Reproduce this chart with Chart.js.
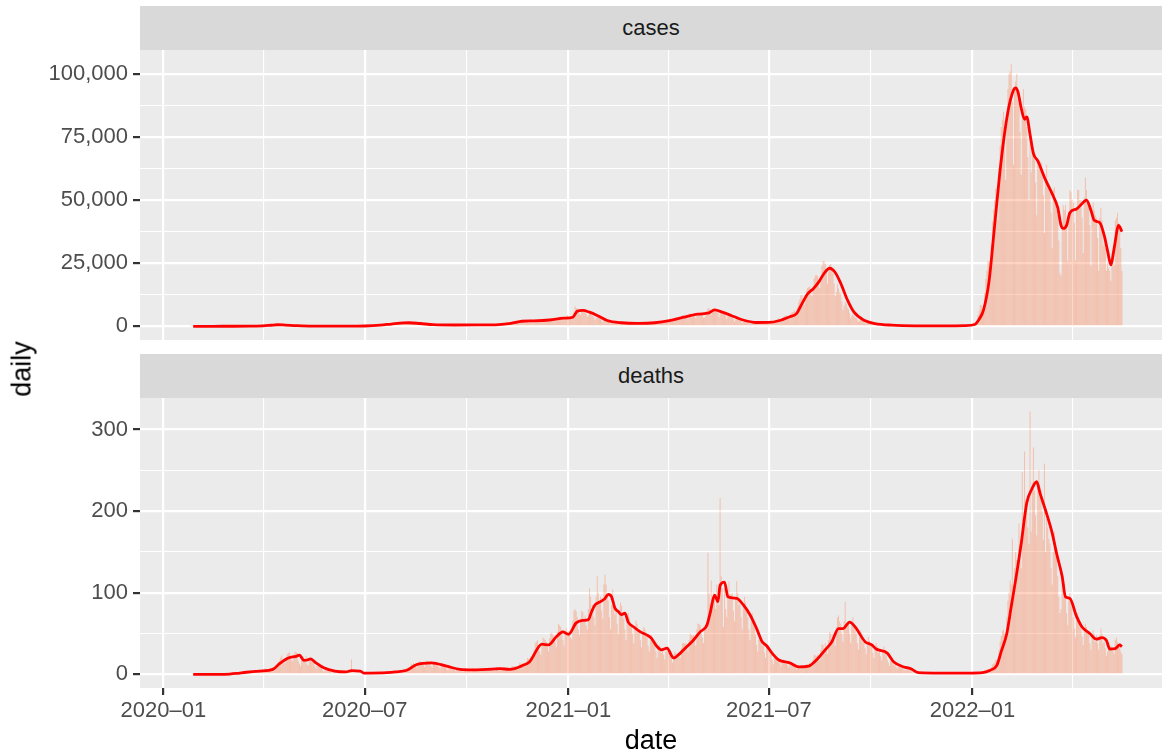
<!DOCTYPE html>
<html>
<head>
<meta charset="utf-8">
<script src="https://cdn.jsdelivr.net/npm/chart.js@4.4.1/dist/chart.umd.min.js"></script>
<style>
  body { margin: 0; width: 1162px; height: 755px; overflow: hidden; position: relative; background: #fff;
         font-family: "Liberation Sans", Arial, sans-serif; }
  canvas { position: absolute; left: 0; }
  .strip { position: absolute; left: 140px; width: 1022px; height: 44px; line-height: 44px; background: #D9D9D9;
           color: #1A1A1A; font-size: 22px; text-align: center; }
  #ytitle { position: absolute; left: 22px; top: 369px; transform: translate(-50%, -50%) rotate(-90deg);
            font-size: 27px; color: #000; white-space: nowrap; }
</style>
</head>
<body>
<canvas id="casesChart" width="1162" height="340" style="top:0"></canvas>
<canvas id="deathsChart" width="1162" height="401" style="top:354px"></canvas>
<div class="strip" style="top:6px">cases</div>
<div class="strip" style="top:354px">deaths</div>
<div id="ytitle">daily</div>
<script>
// daily reported values, one row per week (Sat..Fri), first day 2020-01-25
const startDate = '2020-01-25';

const dailyCases = [
  0,1,0,1,2,1,1, 2,1,1,2,3,3,2, 3,4,3,4,7,8,6, 10,8,6,10,15,14,17,
  15,14,10,16,25,22,24, 25,26,18,26,38,36,40, 45,38,25,32,46,44,50, 38,34,20,36,48,44,56,
  55,60,40,70,110,180,200, 200,180,150,260,320,380,560, 460,380,350,360,520,640,700, 720,550,380,480,600,590,520,
  560,450,250,330,420,440,480, 370,220,140,190,260,250,200, 200,150,90,80,100,80,80, 90,60,20,40,50,45,40,
  40,30,20,15,35,45,50, 30,30,20,30,40,45,50, 45,35,30,45,55,50,55, 40,40,30,35,50,45,65,
  50,45,40,45,60,65,80, 60,60,50,90,100,110,130, 120,110,80,120,190,250,250, 200,250,180,240,400,540,600,
  550,450,300,480,610,690,900, 800,600,450,790,900,1000,1050, 1250,1050,800,1000,1250,1350,1450, 1600,1400,1000,1200,1400,1550,1500,
  1500,1200,900,1100,1400,1500,1350, 1250,950,650,900,1150,1100,1100, 950,750,480,650,850,900,800, 700,600,400,550,700,700,620,
  650,480,300,480,620,650,600, 600,450,280,450,600,560,640, 590,470,300,420,600,640,620, 640,450,300,450,610,620,640,
  640,500,310,490,600,640,620, 660,490,320,510,620,670,650, 700,530,350,530,680,720,690, 800,600,420,620,800,840,800,
  1000,850,600,850,1100,1150,1100, 1500,1250,900,1200,1700,1650,1600, 2200,1800,1300,1700,2200,2400,2200, 2500,2000,1400,1800,2300,2400,2300,
  2400,2100,1500,2000,2600,2500,2400, 2800,2300,1600,2200,2800,2800,2800, 3000,2400,1700,2400,3000,3100,2900, 3300,2800,2000,2900,3500,3800,3600,
  3800,3100,2300,3000,3700,4500,3500,
  // 2021
  3200,3100,3300,4900,6000,7900,7200, 7000,6000,4900,4500,5800,6600,6000, 6000,5000,3800,4300,5200,5000,4500,
  4100,3600,2500,3300,3800,3700,3500, 3000,2300,1600,2200,2400,2300,2100, 1900,1500,1000,1500,1900,1800,1650, 1400,1300,800,1200,1500,1500,1400,
  1300,1100,700,1000,1300,1350,1300, 1100,1000,650,1050,1250,1350,1300, 1250,1150,700,1100,1400,1500,1450, 1450,1300,850,1300,1600,1650,1500,
  1800,1550,1100,1600,1900,2000,1950, 2300,2000,1500,2100,2600,2700,2500, 2900,2700,1900,2800,3400,3600,3500, 3700,3400,2500,3500,4300,4400,4200,
  4800,4100,2900,4100,5000,5200,4900, 5400,4600,3300,4400,5300,5400,5000, 5800,5100,3400,3400,4200,6100,7000, 7200,6500,4600,5500,7000,7000,6900,
  6400,5500,3600,4800,5800,5600,5500, 5000,4300,2900,3900,4700,4600,4100, 3400,2900,1800,2700,3100,3000,2800, 2600,2100,1300,1800,2200,2000,1900,
  2000,1600,1000,1500,1700,1800,1700, 1600,1400,900,1400,1700,1600,1600, 1800,1500,1000,1500,1800,2000,1900, 2300,2000,1300,2000,2500,2600,2700,
  3300,2900,1800,2900,3700,4000,4200, 4400,3800,2800,4000,5100,5600,5700, 6400,5800,4700,7600,9500,10700,12300, 12300,10200,8400,10500,14200,15200,15500,
  15800,14500,12000,15000,18900,20100,20200, 20000,17000,15200,19900,23900,25900,25800, 24700,22000,16800,21600,24300,24700,22700, 21000,17000,12000,13600,16700,15000,13400,
  12900,9800,6500,8000,9600,8900,7400, 6800,5200,3200,4200,5100,4200,3500, 3400,2700,1800,2200,2800,2400,2100, 1800,1400,900,1300,1600,1500,1200,
  1100,900,600,800,1000,900,800, 700,560,330,500,600,550,500, 450,400,250,380,470,420,380, 330,300,150,290,400,330,290,
  260,240,90,180,280,230,220, 200,160,100,160,200,180,170, 170,150,80,150,190,170,160, 150,120,70,130,170,170,170,
  140,120,80,140,170,170,160, 160,130,80,130,170,180,170, 170,150,100,170,220,230,240, 240,200,150,250,300,330,340,
  370,300,200,390,500,570,500,
  // 2022
  530,550,780,1260,2640,4470,6210, 8480,8250,6440,6380,13240,18860,22050, 25740,25630,20880,32200,41490,46200,49850,
  54580,50920,42000,62610,71630,78930,81830, 84940,78000,58000,79000,94000,100000,101000, 104000,89000,64000,93000,97000,100000,90000,
  88000,77000,60000,83000,94000,87000,86000, 79000,67000,50000,75000,61000,72000,71000, 66000,57000,44000,65000,66000,65000,65000,
  62000,52000,37000,59000,64000,56000,56000, 53000,45000,31000,54000,55000,49000,46000, 44000,34000,21000,20000,41000,48000,46000,
  48000,40000,26000,45000,54000,53000,50000, 49000,41000,26000,46000,54000,54000,50000, 50000,43000,29000,51000,59000,54000,50000,
  49000,40000,24000,43000,49000,46000,44000, 43000,35000,22000,43000,47000,42000,32000, 37000,31000,22000,25000,23000,22000,18000,
  29000,27000,24000,42000,43000,45000,41000, 39000,31000,22000
];

const dailyDeaths = [
  0,0,0,0,0,0,0, 0,0,0,0,0,0,0, 0,0,0,0,0,0,0, 0,0,0,0,0,0,1,
  0,1,0,0,0,0,1, 1,0,1,1,0,2,1, 1,2,1,3,2,3,2, 2,3,2,4,3,4,3,
  4,3,2,5,5,4,5, 3,4,3,6,5,7,6, 5,6,5,7,8,9,9, 11,9,10,15,17,20,23,
  17,14,14,21,25,26,27, 19,17,16,25,28,27,26, 16,13,10,18,22,20,19, 22,12,11,16,20,21,17,
  14,10,7,10,13,12,11, 8,5,3,6,7,7,6, 5,3,2,4,5,5,4, 3,2,2,3,5,3,3,
  2,2,1,3,3,2,18, 2,1,1,2,3,3,2, 1,0,1,1,2,1,1, 1,1,1,2,2,2,1,
  2,1,1,2,3,3,2, 2,2,1,3,3,4,3, 3,3,2,4,5,4,4, 4,4,3,5,7,6,6,
  8,7,6,10,13,12,14, 12,10,8,14,16,16,15, 14,11,9,15,17,16,16, 13,10,8,14,16,15,15,
  12,9,7,12,14,12,11, 9,7,5,8,10,9,8, 6,5,4,6,8,7,6, 6,4,3,6,7,6,6,
  5,4,3,7,7,6,6, 6,5,4,6,8,7,6, 6,5,4,7,9,8,7, 7,6,4,8,9,8,7,
  6,5,4,7,8,7,7, 7,6,5,8,10,10,10, 10,8,6,11,14,13,12, 14,11,10,16,20,19,19,
  22,20,18,30,38,40,42, 35,28,24,38,45,44,42, 40,33,28,44,50,51,48, 45,40,33,52,62,60,58,
  55,42,35,50,56,52,53,
  // 2021
  52,45,43,66,78,80,77, 70,55,48,68,78,76,67, 72,60,55,80,105,95,72,
  85,70,60,95,120,100,86, 95,78,68,110,122,110,96, 90,70,55,85,104,90,73, 80,62,50,78,88,84,76,
  68,55,42,65,75,70,60, 60,50,38,56,66,62,53, 55,42,33,52,58,56,47, 45,35,28,42,48,45,37,
  35,28,20,32,36,33,26, 30,24,18,28,33,34,29, 25,20,14,24,28,26,24, 26,25,20,32,38,38,38,
  38,34,28,42,50,48,47, 48,42,35,55,62,62,60, 50,45,38,55,62,55,149, 100,85,115,90,100,95,80,
  110,90,85,216,120,105,58, 105,80,70,100,114,98,98, 100,78,65,95,114,100,85, 90,70,55,85,95,88,77,
  70,55,42,65,75,68,59, 48,36,28,42,48,43,35, 35,27,20,32,36,33,27, 24,18,12,20,23,20,16,
  18,14,10,16,18,16,13, 14,11,8,13,15,13,10, 10,8,6,10,11,10,8, 9,8,7,10,13,12,11,
  14,12,10,18,24,23,22, 24,20,17,30,37,36,32, 38,30,25,42,52,50,43, 50,42,35,58,70,72,65,
  62,50,40,65,89,60,61, 65,50,38,60,70,63,60, 50,38,30,46,54,50,40, 40,32,25,39,46,41,36,
  34,26,20,32,38,34,26, 28,22,17,28,34,30,23, 18,14,10,16,19,17,11, 12,9,7,10,13,11,8,
  8,6,5,7,9,8,6, 4,3,2,3,4,3,2, 2,2,1,2,3,2,2, 2,1,1,2,2,1,2,
  1,1,1,2,2,2,1, 2,1,1,1,2,2,1, 1,2,1,2,2,1,1, 2,1,1,2,1,2,1,
  1,2,1,1,2,2,2,
  // 2022
  2,1,1,2,2,3,3, 3,3,2,4,5,5,6, 6,5,5,9,12,13,14,
  18,17,19,30,40,47,53, 55,50,45,70,90,100,115, 110,166,95,130,150,140,140,
  185,160,130,248,190,273,214, 210,180,160,322,175,235,278, 225,195,170,230,250,230,226,
  200,165,258,150,190,180,166, 160,130,110,150,175,160,151, 120,95,75,80,120,120,111,
  95,75,60,90,100,92,83, 70,56,45,66,75,70,59, 58,46,36,55,62,58,49,
  50,38,30,46,54,50,40, 48,38,30,48,56,50,38, 40,32,22,28,30,30,35,
  30,28,25,42,45,40,35, 36,28,25
];

// trailing 7-day average
const caseLineDates = [
  '2020-01-28','2020-02-15','2020-03-01','2020-03-20','2020-03-31','2020-04-07','2020-04-13','2020-04-20','2020-04-30','2020-05-15',
  '2020-06-15','2020-07-01','2020-07-15','2020-07-25','2020-08-05','2020-08-10','2020-08-20','2020-09-01','2020-09-20','2020-10-10',
  '2020-10-30','2020-11-10','2020-11-20','2020-12-01','2020-12-15','2020-12-28','2021-01-05','2021-01-09','2021-01-14','2021-01-20',
  '2021-01-27','2021-02-05','2021-02-18','2021-03-05','2021-03-20','2021-04-01','2021-04-15','2021-04-28','2021-05-08','2021-05-13',
  '2021-05-20','2021-05-28','2021-06-07','2021-06-20','2021-07-01','2021-07-10','2021-07-20','2021-07-26','2021-07-31','2021-08-05',
  '2021-08-10','2021-08-15','2021-08-20','2021-08-25','2021-08-30','2021-09-04','2021-09-10','2021-09-16','2021-09-25','2021-10-05',
  '2021-10-20','2021-11-10','2021-12-10','2021-12-25','2022-01-03','2022-01-07','2022-01-11','2022-01-16','2022-01-21','2022-01-27',
  '2022-02-02','2022-02-07','2022-02-09','2022-02-11','2022-02-14','2022-02-17','2022-02-19','2022-02-22','2022-02-25','2022-03-01',
  '2022-03-08','2022-03-14','2022-03-19','2022-03-22','2022-03-24','2022-03-27','2022-03-30','2022-04-05','2022-04-12','2022-04-14',
  '2022-04-18','2022-04-21','2022-04-26','2022-04-30','2022-05-03','2022-05-06','2022-05-09','2022-05-13','2022-05-16'
];
const caseLineValues = [
  0,5,20,40,200,420,620,500,250,50,
  45,120,450,900,1350,1400,1100,650,520,550,
  700,1200,2000,2150,2500,3200,3600,6000,6300,5600,
  4300,2300,1400,1150,1400,2100,3600,4800,5300,6500,
  5600,4300,2600,1500,1550,2200,3800,5000,9000,12800,
  14800,17500,21000,23000,21300,17000,10500,5600,2400,1100,
  450,180,150,250,700,2800,6500,18000,40000,66000,
  85000,93500,94500,93000,86500,82000,83000,76000,68500,65500,
  58000,52500,47000,40000,38800,40000,45000,46500,49500,50000,
  46000,42000,41000,36000,30000,24300,31000,40000,37500
];

const deathLineDates = [
  '2020-01-28','2020-02-20','2020-03-01','2020-03-07','2020-03-16','2020-03-28','2020-04-09','2020-04-15','2020-04-23','2020-04-30',
  '2020-05-03','2020-05-07','2020-05-10','2020-05-13','2020-05-18','2020-05-25','2020-06-04','2020-06-14','2020-06-19','2020-06-27',
  '2020-06-30','2020-07-21','2020-07-29','2020-08-08','2020-08-17','2020-08-30','2020-09-13','2020-09-25','2020-10-07','2020-10-19',
  '2020-10-31','2020-11-09','2020-11-21','2020-11-27','2020-12-08','2020-12-14','2020-12-21','2020-12-27','2021-01-01','2021-01-08',
  '2021-01-14','2021-01-19','2021-01-22','2021-01-25','2021-01-30','2021-02-03','2021-02-06','2021-02-09','2021-02-12','2021-02-15',
  '2021-02-18','2021-02-21','2021-02-24','2021-03-01','2021-03-07','2021-03-13','2021-03-17','2021-03-22','2021-03-26','2021-03-31',
  '2021-04-06','2021-04-12','2021-04-18','2021-04-24','2021-04-30','2021-05-06','2021-05-09','2021-05-13','2021-05-16','2021-05-18',
  '2021-05-22','2021-05-25','2021-06-02','2021-06-08','2021-06-14','2021-06-20','2021-06-25','2021-06-29','2021-07-05','2021-07-10',
  '2021-07-20','2021-07-28','2021-08-06','2021-08-13','2021-08-21','2021-08-27','2021-09-02','2021-09-06','2021-09-12','2021-09-17',
  '2021-09-26','2021-10-02','2021-10-06','2021-10-16','2021-10-22','2021-10-31','2021-11-06','2021-11-13','2021-12-03','2021-12-30',
  '2022-01-10','2022-01-17','2022-01-23','2022-01-27','2022-02-01','2022-02-05','2022-02-10','2022-02-14','2022-02-19','2022-02-24',
  '2022-02-28','2022-03-03','2022-03-08','2022-03-14','2022-03-18','2022-03-23','2022-03-26','2022-03-30','2022-04-05','2022-04-10',
  '2022-04-17','2022-04-23','2022-04-28','2022-05-02','2022-05-05','2022-05-10','2022-05-14','2022-05-16'
];
const deathLineValues = [
  0,0,0.3,1,2.5,4,6,13,20,22,
  23.5,17,17.5,19,14,8,4,3,4.5,4,
  1.5,2,3,5,12,14,10,6,5.5,6,
  7,6,11,15.5,37,36,46,52,49,63,
  66,67,77,85,89,93,98,95,81,77,
  73,75,64,58,52,48,44,34,30,32,
  20,26,34,42,52,60,75,97,89,109,
  113,95,93,85,73,56,40,35,24,17.5,
  14,9,10,17.5,30,40,56,56,64,58,
  40,36,31,26,15,9,7,2,1.5,1.5,
  2,5,11,28,50,83,124,160,210,228,
  236,222,201,173,148,120,95,93,71,58,
  50,43,45,41.5,31,31.5,36,34
];

const xMajorDates = ['2020-01-01', '2020-07-01', '2021-01-01', '2021-07-01', '2022-01-01'];
const xMajorLabels = ['2020–01', '2020–07', '2021–01', '2021–07', '2022–01'];
const xMinorDates = ['2020-04-01', '2020-10-01', '2021-04-01', '2021-10-01', '2022-04-01'];
const caseMajorTicks = [0, 25000, 50000, 75000, 100000];
const caseMinorTicks = [12500, 37500, 62500, 87500];
const deathMajorTicks = [0, 100, 200, 300];
const deathMinorTicks = [50, 150, 250];

const DAY = 86400000;
const ORIGIN = Date.UTC(2020, 0, 1);
function dayNum(s) {
  const [y, m, d] = s.split('-').map(Number);
  return Math.round((Date.UTC(y, m - 1, d) - ORIGIN) / DAY);
}

Chart.defaults.font.family = '"Liberation Sans", Arial, sans-serif';

const panelBg = {
  id: 'panelBg',
  beforeDraw(chart) {
    const { ctx, chartArea: a } = chart;
    ctx.save();
    ctx.fillStyle = '#EBEBEB';
    ctx.fillRect(a.left, a.top, a.right - a.left, a.bottom - a.top);
    ctx.restore();
  }
};

function makePanel(canvasId, bars, lineDates, lineValues, yMajor, yMinor, yMin, yMax, fmt, showX) {
  const start = dayNum(startDate);
  const xMajor = xMajorDates.map(dayNum);
  const xMinor = xMinorDates.map(dayNum);
  const xTicks = xMajor.concat(xMinor).sort((a, b) => a - b);
  const xLabel = v => {
    const i = xMajor.indexOf(v);
    return i >= 0 ? xMajorLabels[i] : '';
  };
  const yTicks = yMajor.concat(yMinor).sort((a, b) => a - b);
  const n = Math.min(lineDates.length, lineValues.length);

  return new Chart(document.getElementById(canvasId), {
    type: 'bar',
    data: {
      datasets: [
        {
          type: 'line',
          data: lineDates.slice(0, n).map((d, i) => ({ x: dayNum(d), y: lineValues[i] })),
          borderColor: '#FF0000',
          borderWidth: 2.8,
          pointRadius: 0,
          cubicInterpolationMode: 'monotone',
          order: 0
        },
        {
          type: 'bar',
          data: bars.map((v, i) => ({ x: start + i, y: v })),
          backgroundColor: 'rgba(255, 127, 80, 0.4)',
          borderWidth: 0,
          barPercentage: 0.9,
          categoryPercentage: 1,
          order: 1
        }
      ]
    },
    options: {
      responsive: false,
      animation: false,
      devicePixelRatio: 1,
      layout: { padding: { top: showX ? 44 : 50, left: 0, right: 0, bottom: 0 } },
      plugins: { legend: { display: false }, tooltip: { enabled: false } },
      scales: {
        x: {
          type: 'linear',
          offset: false,
          min: -21.05,
          max: 902.2,
          afterBuildTicks: axis => { axis.ticks = xTicks.map(v => ({ value: v })); },
          afterFit: axis => { axis.height = showX ? 67 : 0; },
          ticks: {
            display: showX,
            autoSkip: false,
            maxRotation: 0,
            padding: 3,
            color: '#4D4D4D',
            font: { size: 22 },
            callback: v => xLabel(v)
          },
          grid: {
            offset: false,
            color: '#FFFFFF',
            lineWidth: c => (c.tick && xMajor.includes(c.tick.value) ? 2.2 : 1.1),
            drawTicks: showX,
            tickLength: 7,
            tickWidth: 2.2,
            tickColor: c => (c.tick && xMajor.includes(c.tick.value) ? '#333333' : 'rgba(0,0,0,0)')
          },
          border: { display: false },
          title: {
            display: showX,
            text: 'date',
            color: '#000000',
            font: { size: 27, lineHeight: 1 },
            padding: 0
          }
        },
        y: {
          type: 'linear',
          min: yMin,
          max: yMax,
          afterBuildTicks: axis => { axis.ticks = yTicks.map(v => ({ value: v })); },
          afterFit: axis => { axis.width = 140; axis.paddingTop = 0; axis.paddingBottom = 0; },
          ticks: {
            autoSkip: false,
            padding: 5,
            color: '#4D4D4D',
            font: { size: 22 },
            callback: v => (yMajor.includes(v) ? fmt(v) : '')
          },
          grid: {
            color: '#FFFFFF',
            lineWidth: c => (c.tick && yMajor.includes(c.tick.value) ? 2.2 : 1.1),
            tickLength: 7,
            tickWidth: 2.2,
            tickColor: c => (c.tick && yMajor.includes(c.tick.value) ? '#333333' : 'rgba(0,0,0,0)')
          },
          border: { display: false }
        }
      }
    },
    plugins: [panelBg]
  });
}

makePanel('casesChart', dailyCases, caseLineDates, caseLineValues,
  caseMajorTicks, caseMinorTicks, -5430, 109470, v => v.toLocaleString('en-US'), false);
makePanel('deathsChart', dailyDeaths, deathLineDates, deathLineValues,
  deathMajorTicks, deathMinorTicks, -16.8, 338.6, v => String(v), true);
</script>
</body>
</html>
